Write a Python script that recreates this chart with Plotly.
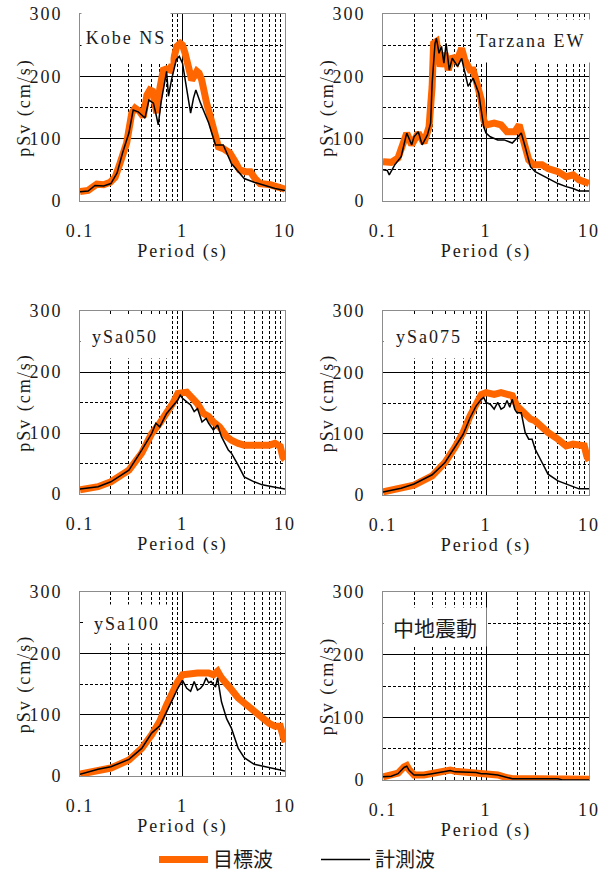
import plotly.graph_objects as go

# ---------------- data (period in s, pSv in cm/s) ----------------
kobe_T_target = [0.1, 0.12, 0.146, 0.17, 0.197, 0.22, 0.245, 0.285, 0.32, 0.345, 0.38, 0.415, 0.45, 0.48, 0.51, 0.535, 0.56, 0.6, 0.65, 0.7, 0.76, 0.82, 0.88, 0.95, 1.0, 1.06, 1.15, 1.23, 1.3, 1.38, 1.45, 1.54, 1.72, 2.0, 2.24, 2.5, 2.9, 3.3, 3.6, 4.1, 4.6, 5.1, 5.7, 7.2, 8.5, 10]
kobe_target = [15, 17, 27, 26, 30, 38, 60, 93, 141, 149, 144, 135, 170, 178, 176, 160, 141, 180, 210, 212, 210, 228, 248, 253, 250, 237, 215, 194, 200, 208, 205, 194, 157, 114, 87, 84, 77, 62, 50, 47, 47, 36, 28, 26, 22, 19]
kobe_T_meas = [0.1, 0.12, 0.14, 0.17, 0.2, 0.23, 0.26, 0.3, 0.33, 0.37, 0.4, 0.43, 0.47, 0.52, 0.55, 0.58, 0.62, 0.65, 0.7, 0.73, 0.78, 0.87, 0.93, 1.0, 1.1, 1.2, 1.28, 1.35, 1.5, 1.8, 2.1, 2.5, 3.0, 4.0, 5.0, 6.0, 8.0, 10]
kobe_meas = [15, 16, 25, 24, 28, 45, 77, 109, 146, 143, 138, 133, 162, 157, 140, 122, 160, 178, 208, 168, 194, 227, 232, 221, 180, 141, 165, 178, 157, 125, 90, 90, 60, 36, 30, 26, 20, 17]

tarz_T_target = [0.1, 0.12, 0.14, 0.16, 0.17, 0.19, 0.22, 0.25, 0.28, 0.3, 0.31, 0.33, 0.36, 0.4, 0.43, 0.47, 0.52, 0.58, 0.62, 0.7, 0.75, 0.8, 0.9, 0.95, 1.0, 1.2, 1.4, 1.6, 1.9, 2.1, 2.3, 2.6, 2.9, 3.5, 4.0, 5.0, 6.0, 7.0, 8.0, 10]
tarz_target = [63, 62, 69, 93, 109, 90, 109, 93, 119, 184, 253, 256, 216, 237, 210, 232, 224, 245, 227, 210, 210, 194, 162, 130, 122, 125, 122, 111, 111, 122, 98, 66, 58, 58, 52, 47, 39, 42, 34, 28]
tarz_T_meas = [0.1, 0.11, 0.115, 0.13, 0.15, 0.17, 0.19, 0.2, 0.22, 0.24, 0.27, 0.29, 0.3, 0.32, 0.33, 0.35, 0.37, 0.39, 0.41, 0.44, 0.47, 0.53, 0.58, 0.62, 0.67, 0.75, 0.85, 0.95, 1.0, 1.1, 1.3, 1.5, 1.8, 2.0, 2.2, 2.4, 2.7, 3.0, 4.0, 5.0, 6.0, 7.0, 8.0, 10]
tarz_meas = [50, 49, 42, 58, 71, 109, 90, 103, 111, 90, 106, 125, 189, 253, 261, 237, 248, 221, 253, 210, 229, 216, 229, 210, 184, 197, 173, 119, 109, 103, 98, 98, 93, 101, 109, 87, 55, 47, 36, 28, 23, 20, 16, 16]

s050_T_target = [0.1, 0.15, 0.2, 0.3, 0.4, 0.5, 0.6, 0.7, 0.8, 0.9, 1.0, 1.1, 1.2, 1.4, 1.6, 1.8, 2.0, 2.3, 2.7, 3.0, 3.5, 4.0, 5.0, 6.0, 7.0, 8.0, 9.0, 9.5, 10]
s050_target = [7, 12, 20, 39, 67, 99, 116, 132, 148, 165, 167, 167, 160, 148, 132, 127, 118, 110, 94, 88, 83, 80, 80, 80, 80, 83, 78, 61, 56]
s050_T_meas = [0.1, 0.15, 0.2, 0.3, 0.4, 0.5, 0.55, 0.6, 0.7, 0.8, 0.9, 0.95, 1.0, 1.1, 1.2, 1.3, 1.4, 1.55, 1.7, 1.8, 2.0, 2.2, 2.4, 2.8, 3.0, 3.5, 4.0, 5.0, 6.0, 8.0, 10]
s050_meas = [8, 12, 20, 39, 72, 99, 116, 110, 132, 143, 154, 162, 157, 151, 146, 135, 140, 118, 124, 116, 105, 113, 94, 72, 67, 47, 28, 20, 15, 11, 8]

s075_T_target = [0.1, 0.15, 0.2, 0.3, 0.4, 0.5, 0.6, 0.7, 0.8, 0.9, 1.0, 1.2, 1.4, 1.6, 1.8, 2.0, 2.3, 2.7, 3.0, 3.5, 4.0, 5.0, 6.0, 7.0, 8.0, 9.0, 9.5, 10]
s075_target = [5, 10, 16, 31, 53, 78, 102, 129, 151, 164, 167, 164, 167, 164, 162, 145, 134, 124, 121, 110, 102, 91, 80, 83, 80, 80, 64, 56]
s075_T_meas = [0.1, 0.15, 0.2, 0.3, 0.4, 0.5, 0.6, 0.7, 0.8, 0.9, 0.95, 1.0, 1.1, 1.2, 1.3, 1.4, 1.5, 1.6, 1.7, 1.8, 1.9, 2.0, 2.2, 2.4, 2.6, 2.8, 3.0, 3.5, 4.0, 5.0, 6.0, 7.0, 8.0, 10]
s075_meas = [5, 11, 18, 33, 53, 78, 99, 126, 145, 156, 159, 151, 148, 140, 151, 140, 143, 154, 143, 156, 140, 134, 134, 102, 91, 91, 75, 53, 34, 23, 18, 14, 10, 10]

s100_T_target = [0.1, 0.15, 0.2, 0.3, 0.4, 0.5, 0.6, 0.7, 0.8, 0.9, 1.0, 1.2, 1.4, 1.6, 1.8, 2.0, 2.2, 2.4, 2.7, 3.0, 3.5, 4.0, 5.0, 6.0, 7.0, 8.0, 9.0, 9.5, 10]
s100_target = [3, 8, 13, 26, 45, 67, 89, 116, 138, 154, 165, 168, 168, 168, 168, 165, 171, 160, 152, 141, 127, 119, 104, 93, 86, 81, 81, 67, 55]
s100_T_meas = [0.1, 0.15, 0.2, 0.3, 0.4, 0.5, 0.6, 0.7, 0.8, 0.9, 1.0, 1.1, 1.2, 1.3, 1.4, 1.5, 1.6, 1.7, 1.8, 1.9, 2.0, 2.1, 2.2, 2.4, 2.7, 3.0, 3.5, 4.0, 5.0, 6.0, 8.0, 10]
s100_meas = [3, 11, 15, 27, 45, 70, 82, 104, 125, 143, 156, 143, 138, 154, 140, 143, 149, 160, 152, 154, 149, 145, 160, 121, 93, 78, 45, 30, 19, 16, 12, 8]

chu_T_target = [0.1, 0.12, 0.14, 0.16, 0.17, 0.18, 0.2, 0.25, 0.3, 0.35, 0.4, 0.45, 0.5, 0.6, 0.8, 0.9, 1.0, 1.3, 1.5, 1.8, 3.0, 5.0, 5.5, 10]
chu_target = [5, 7, 11, 21, 23, 16, 8, 8, 11, 13, 14, 16, 14, 13, 12, 10, 10, 8, 5, 2, 2, 2, 1, 1]
chu_T_meas = [0.1, 0.12, 0.14, 0.16, 0.17, 0.18, 0.2, 0.25, 0.3, 0.35, 0.4, 0.45, 0.5, 0.6, 0.8, 0.9, 1.0, 1.3, 1.5, 1.8, 3.0, 5.0, 5.5, 10]
chu_meas = [5, 6, 10, 20, 22, 15, 8, 8, 10, 12, 13, 15, 13, 13, 12, 10, 10, 8, 5, 2, 2, 2, 0, 0]

panel_names = ["Kobe NS", "Tarzana EW", "ySa050", "ySa075", "ySa100", "中地震動"]
legend_names = ["目標波", "計測波"]
x_tickvals = [0.1, 1, 10]
x_ticktext = ["0.1", "1", "10"]
y_tickvals = [0, 100, 200, 300]
x_title = "Period (s)"
y_title = "pSv (cm/s)"

panels = [
    (kobe_T_target, kobe_target, kobe_T_meas, kobe_meas),
    (tarz_T_target, tarz_target, tarz_T_meas, tarz_meas),
    (s050_T_target, s050_target, s050_T_meas, s050_meas),
    (s075_T_target, s075_target, s075_T_meas, s075_meas),
    (s100_T_target, s100_target, s100_T_meas, s100_meas),
    (chu_T_target, chu_target, chu_T_meas, chu_meas),
]

# ---------------- layout geometry (pixels) ----------------
W, H = 603, 879
boxes = [
    (80, 285, 14, 201), (383, 589, 14, 201),
    (80, 285, 311, 494), (383, 589, 311, 495),
    (80, 285, 592, 776), (383, 589, 592, 780),
]
label_boxes = [
    (126, 38, 86, 48), (531, 41, 116, 40),
    (125, 337, 86, 40), (429, 337, 88, 40),
    (127, 624, 84, 36), (435, 627, 100, 36),
]

ORANGE = "#FF6600"
SERIF = "Liberation Serif"
CJK = "Noto Sans CJK JP"
TXT = "#1a1a1a"

fig = go.Figure()
for i, (tt, tv, mt, mv) in enumerate(panels):
    k = "" if i == 0 else str(i + 1)
    fig.add_trace(go.Scatter(x=tt, y=tv, mode="lines", name=legend_names[0],
                             line=dict(color=ORANGE, width=7),
                             xaxis="x" + k, yaxis="y" + k, showlegend=(i == 0)))
    fig.add_trace(go.Scatter(x=mt, y=mv, mode="lines", name=legend_names[1],
                             line=dict(color="black", width=1.5),
                             xaxis="x" + k, yaxis="y" + k, showlegend=(i == 0)))

    l, r, t, b = boxes[i]
    xd = [l / W, r / W]
    yd = [1 - b / H, 1 - t / H]
    fig.layout["xaxis" + k] = dict(
        domain=xd, anchor="y" + k, type="log", range=[-1, 1], automargin=False,
        tickvals=x_tickvals, ticktext=x_ticktext,
        ticks="outside", ticklen=13, tickcolor="rgba(0,0,0,0)",
        tickfont=dict(family=SERIF, size=18, color=TXT),
        showgrid=True, gridcolor="black", gridwidth=1,
        minor=dict(dtick="D1", showgrid=True, gridcolor="black", gridwidth=1, griddash="3px,2px"),
        showline=True, linecolor="#8c8c8c", linewidth=1, mirror=True,
        title=dict(text=x_title, font=dict(family=SERIF, size=18, color=TXT), standoff=0),
        zeroline=False,
    )
    fig.layout["yaxis" + k] = dict(
        domain=yd, anchor="x" + k, range=[0, 300], automargin=False,
        tickvals=y_tickvals,
        ticks="outside", ticklen=13, tickcolor="rgba(0,0,0,0)",
        tickfont=dict(family=SERIF, size=18, color=TXT),
        showgrid=True, gridcolor="black", gridwidth=1,
        minor=dict(dtick=50, showgrid=True, gridcolor="black", gridwidth=1, griddash="3px,2px"),
        showline=True, linecolor="#8c8c8c", linewidth=1, mirror=True,
        title=dict(text=y_title, font=dict(family=SERIF, size=18, color=TXT), standoff=0),
        zeroline=False,
    )

    cx, cy, bw, bh = label_boxes[i]
    is_cjk = panel_names[i] == "中地震動"
    fig.add_annotation(
        xref="x" + k + " domain", yref="y" + k + " domain",
        x=(cx - l) / (r - l), y=(b - cy) / (b - t),
        text=panel_names[i], showarrow=False,
        font=dict(family=CJK if is_cjk else SERIF, size=21 if is_cjk else 18, color=TXT),
        bgcolor="white", width=bw, height=bh, xanchor="center", yanchor="middle",
    )

fig.update_layout(
    width=W, height=H, margin=dict(l=0, r=0, t=0, b=0, autoexpand=False),
    paper_bgcolor="white", plot_bgcolor="white",
    showlegend=True,
    legend=dict(orientation="h", x=154 / W, xanchor="left", y=0, yanchor="bottom",
                font=dict(family=CJK, size=20, color=TXT), itemwidth=49,
                entrywidth=98, tracegroupgap=0, bgcolor="rgba(0,0,0,0)"),
)

post = """
(function(){
  document.documentElement.style.margin = '0';
  document.body.style.margin = '0';
  document.body.style.padding = '0';
  document.body.style.overflow = 'hidden';
  var gd = document.getElementById('{plot_id}');
  function ls(){
    gd.querySelectorAll('text').forEach(function(t){
      var f = t.style.fontFamily || '';
      if (f.indexOf('Liberation Serif') >= 0) { t.style.letterSpacing = '2px'; }
    });
  }
  ls();
  if (gd.on) { gd.on('plotly_afterplot', ls); }
  setTimeout(ls, 50); setTimeout(ls, 300); setTimeout(ls, 1000);
})();
"""

fig.write_html("out.html", post_script=post, config={"displayModeBar": False})
